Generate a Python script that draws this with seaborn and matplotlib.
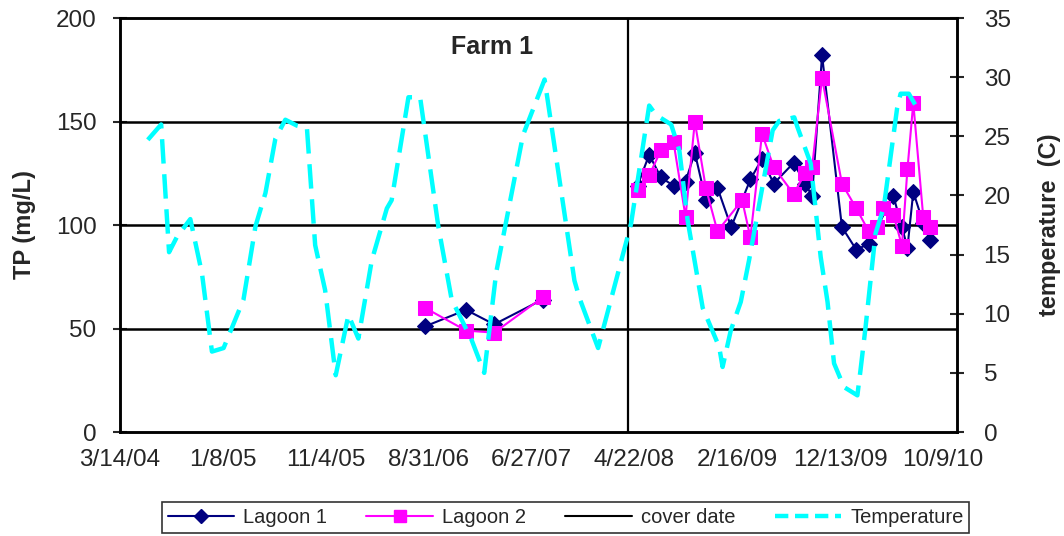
import pandas as pd
import matplotlib
matplotlib.use("Agg")
import matplotlib.pyplot as plt
from matplotlib.lines import Line2D
import seaborn as sns

# Lagoon total phosphorus (mg/L); two sampling periods, not joined
lagoon1_dates = [
    "2006-08-20", "2006-12-18", "2007-03-10", "2007-07-29",
    "2008-05-01", "2008-06-04", "2008-07-08", "2008-08-14", "2008-09-18",
    "2008-10-15", "2008-11-16", "2008-12-20", "2009-01-29", "2009-03-26",
    "2009-04-29", "2009-06-02", "2009-07-30", "2009-09-02", "2009-09-22",
    "2009-10-21", "2009-12-18", "2010-01-29", "2010-03-06", "2010-05-17",
    "2010-06-11", "2010-06-27", "2010-07-14", "2010-08-12", "2010-08-31",
]
lagoon1_tp = [
    51, 59, 52, 64,
    119, 134, 123, 119, 121,
    135, 112, 118, 99, 122,
    132, 120, 130, 120, 114,
    182, 99, 88, 91, 114,
    99, 89, 116, 101, 93,
]

lagoon2_dates = [
    "2006-08-20", "2006-12-18", "2007-03-10", "2007-07-29",
    "2008-05-01", "2008-06-04", "2008-07-08", "2008-08-14", "2008-09-18",
    "2008-10-15", "2008-11-16", "2008-12-20", "2009-03-02", "2009-03-26",
    "2009-04-29", "2009-06-02", "2009-07-30", "2009-09-02", "2009-09-22",
    "2009-10-21", "2009-12-18", "2010-01-29", "2010-03-06", "2010-03-30",
    "2010-04-18", "2010-05-17", "2010-06-11", "2010-06-27", "2010-07-14",
    "2010-08-12", "2010-08-31",
]
lagoon2_tp = [
    60, 49, 48, 65,
    117, 124, 136, 140, 104,
    150, 118, 97, 112, 94,
    144, 128, 115, 125, 128,
    171, 120, 108, 97, 99,
    108, 105, 90, 127, 159,
    104, 99,
]

# Temperature (C)
temp_dates = [
    "2004-06-03", "2004-07-12", "2004-08-04", "2004-08-27", "2004-10-05",
    "2004-11-08", "2004-12-07", "2005-01-10", "2005-03-09", "2005-04-13",
    "2005-05-12", "2005-06-10", "2005-07-09", "2005-08-12", "2005-09-10",
    "2005-10-04", "2005-11-02", "2005-12-03", "2006-01-09", "2006-02-07",
    "2006-03-18", "2006-05-01", "2006-05-15", "2006-07-03", "2006-08-06",
    "2006-09-28", "2006-11-06", "2007-01-03", "2007-02-09", "2007-03-16",
    "2007-06-02", "2007-08-04", "2007-10-30", "2007-11-14", "2008-01-07",
    "2008-02-09", "2008-04-12", "2008-06-04", "2008-06-24", "2008-08-07",
    "2008-08-31", "2008-09-24", "2008-11-07", "2008-12-25", "2009-01-04",
    "2009-01-28", "2009-02-26", "2009-03-22", "2009-05-30", "2009-06-18",
    "2009-08-01", "2009-08-10", "2009-09-18", "2009-10-17", "2009-11-06",
    "2009-11-25", "2009-12-24", "2010-02-01", "2010-02-10", "2010-02-25",
    "2010-03-26", "2010-04-19", "2010-05-28", "2010-06-07", "2010-07-01",
    "2010-07-25",
]
temp_c = [
    24.7, 26.0, 15.2, 16.5, 18.0,
    13.4, 6.8, 7.1, 11.2, 17.4,
    20.2, 24.8, 26.4, 25.9, 25.7,
    15.8, 12.0, 4.8, 9.9, 7.9,
    14.5, 18.9, 19.6, 28.3, 28.3,
    17.4, 11.2, 7.8, 5.0, 13.5,
    25.1, 29.8, 12.8, 11.3, 7.1,
    10.7, 17.6, 27.6, 26.8, 26.0,
    23.8, 17.9, 10.5, 7.2, 5.5,
    8.6, 11.0, 14.5, 25.5, 26.3,
    26.6, 25.8, 22.7, 14.8, 11.0,
    5.8, 3.8, 3.1, 5.2, 8.9,
    16.8, 19.0, 27.4, 28.6, 28.6,
    27.4,
]

cover_date = "2008-04-03"
axis_start = "2004-03-14"
axis_end = "2010-11-19"

lag1 = pd.DataFrame({"date": pd.to_datetime(lagoon1_dates), "tp": lagoon1_tp})
lag2 = pd.DataFrame({"date": pd.to_datetime(lagoon2_dates), "tp": lagoon2_tp})
for df in (lag1, lag2):
    df["period"] = (df["date"] > pd.Timestamp(cover_date)).astype(int)
temp = pd.DataFrame({"date": pd.to_datetime(temp_dates), "temp": temp_c})

sns.set_style("white")
plt.rcParams["font.family"] = ["Liberation Sans", "DejaVu Sans"]

fig = plt.figure(figsize=(10.64, 5.36), dpi=100)
ax = fig.add_axes([0.1128, 0.194, 0.7868, 0.7724])

for y in [50, 100, 150]:
    ax.axhline(y, color="black", lw=1.8, zorder=1)

ax.axvline(pd.Timestamp(cover_date), color="black", lw=1.6, zorder=2)

sns.lineplot(data=lag1, x="date", y="tp", units="period", estimator=None, ax=ax,
             color="#000080", lw=1.5, marker="D", markersize=8.5,
             markeredgecolor="#000080", zorder=3)
sns.lineplot(data=lag2, x="date", y="tp", units="period", estimator=None, ax=ax,
             color="#FF00FF", lw=1.5, marker="s", markersize=10,
             markeredgecolor="#FF00FF", zorder=4)

ax.set_ylim(0, 200)
ax.set_yticks([0, 50, 100, 150, 200])
ax.set_xlim(pd.Timestamp(axis_start), pd.Timestamp(axis_end))
ticks = pd.date_range(axis_start, periods=9, freq="300D")
ax.set_xticks(ticks)
ax.set_xticklabels([f"{t.month}/{t.day}/{t.strftime('%y')}" for t in ticks])
ax.set_xlabel("")
ax.set_ylabel("TP (mg/L)", fontsize=17, fontweight="bold", labelpad=14)

ax2 = ax.twinx()
sns.lineplot(data=temp, x="date", y="temp", ax=ax2, color="#00FFFF", lw=3.2,
             zorder=5)
for line in ax2.get_lines():
    line.set_dashes([5.5, 2.4])
ax2.set_ylim(0, 35)
ax2.set_yticks(range(0, 40, 5))
ax2.set_xlim(pd.Timestamp(axis_start), pd.Timestamp(axis_end))
ax2.set_ylabel("temperature  (C)", fontsize=17, fontweight="bold", labelpad=20)

for a in (ax, ax2):
    for s in a.spines.values():
        s.set_color("black")
        s.set_linewidth(1.8)
ax.tick_params(axis="y", direction="inout", length=10, width=1.5, labelsize=17.5, pad=12)
ax.tick_params(axis="x", direction="out", length=6, width=1.5, labelsize=17.5, pad=6)
ax2.tick_params(axis="y", direction="inout", length=10, width=1.5, labelsize=17.5, pad=14)

ax.text(0.445, 0.93, "Farm 1", transform=ax.transAxes, ha="center", va="center",
        fontsize=18, fontweight="bold")

handles = [
    Line2D([], [], color="#000080", lw=1.5, marker="D", markersize=7),
    Line2D([], [], color="#FF00FF", lw=1.5, marker="s", markersize=8),
    Line2D([], [], color="black", lw=1.5),
    Line2D([], [], color="#00FFFF", lw=3.2, dashes=[3, 1.5]),
]
leg = fig.legend(handles, ["Lagoon 1", "Lagoon 2", "cover date", "Temperature"],
                 loc="center", bbox_to_anchor=(0.5315, 0.035), ncol=4,
                 frameon=True, fancybox=False, fontsize=14.5, handlelength=3.3,
                 columnspacing=1.95, borderpad=0.3, handletextpad=0.45,
                 borderaxespad=0)
leg.get_frame().set_edgecolor("black")
leg.get_frame().set_linewidth(1.2)

fig.savefig("out.png", dpi=100)
